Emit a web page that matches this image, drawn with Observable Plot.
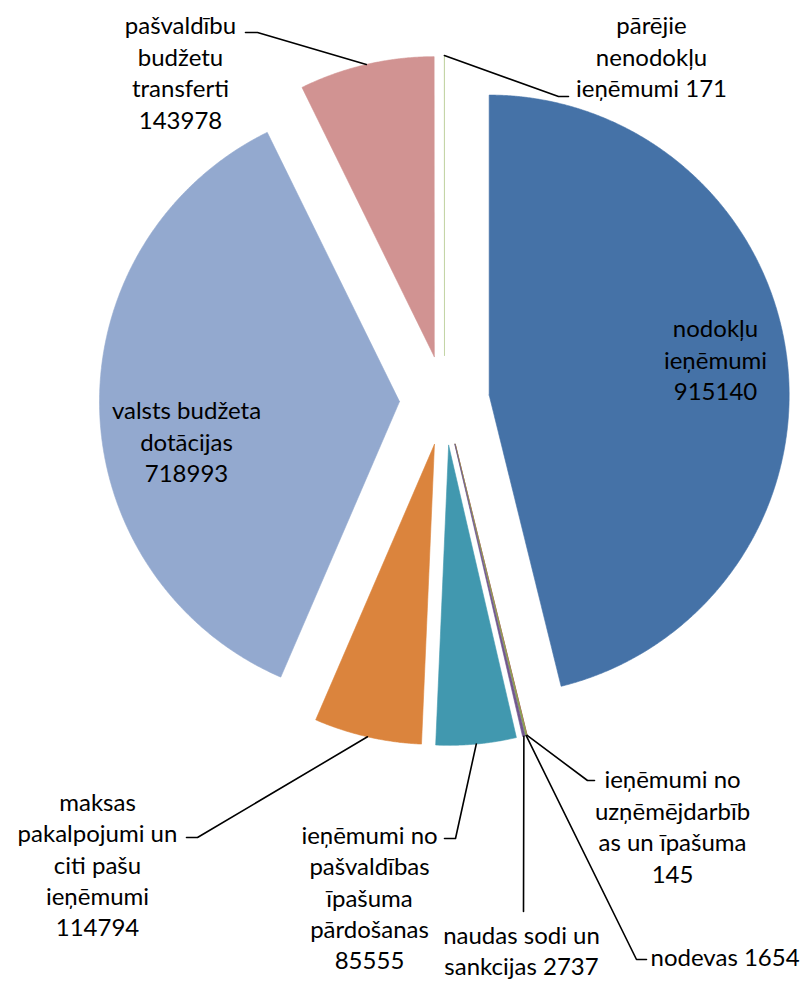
<!DOCTYPE html>
<html>
<head>
<meta charset="utf-8">
<script src="https://cdn.jsdelivr.net/npm/d3@7"></script>
<script src="https://cdn.jsdelivr.net/npm/@observablehq/plot@0.6"></script>
<style>
  html, body { margin: 0; padding: 0; background: #fff; }
  #chart svg { display: block; }
</style>
</head>
<body>
<div id="chart"></div>
<script>
// ---- data ----
const categories = [
  "nodokļu ieņēmumi",
  "ieņēmumi no uzņēmējdarbības un īpašuma",
  "nodevas",
  "naudas sodi un sankcijas",
  "ieņēmumi no pašvaldības īpašuma pārdošanas",
  "maksas pakalpojumi un citi pašu ieņēmumi",
  "valsts budžeta dotācijas",
  "pašvaldību budžetu transferti",
  "pārējie nenodokļu ieņēmumi"
];
const values = [915140, 145, 1654, 2737, 85555, 114794, 718993, 143978, 171];
// label text as wrapped in the chart ({v} = value)
const labelWraps = [
  "nodokļu\nieņēmumi\n{v}",
  "ieņēmumi no\nuzņēmējdarbīb\nas un īpašuma\n{v}",
  "nodevas {v}",
  "naudas sodi un\nsankcijas {v}",
  "ieņēmumi no\npašvaldības\nīpašuma\npārdošanas\n{v}",
  "maksas\npakalpojumi un\nciti pašu\nieņēmumi\n{v}",
  "valsts budžeta\ndotācijas\n{v}",
  "pašvaldību\nbudžetu\ntransferti\n{v}",
  "pārējie\nnenodokļu\nieņēmumi {v}"
];

// ---- styles / layout ----
const palette = ["#4572A7", "#AA4643", "#89A54E", "#71588F", "#4198AF", "#DB843D", "#93A9CF", "#D19392", "#B9CD96"];
const W = 803, H = 982;
const cx = 444, cy = 400, R = 300, explode = 45;
const FS = 24, LH = 1.31;
// label placement: [x, y, anchor]
const labelPos = [
  [715, 358, "middle"],
  [672, 825, "middle"],
  [650, 955, "start"],
  [521, 949, "middle"],
  [369, 896, "middle"],
  [97, 863, "middle"],
  [186, 440, "middle"],
  [180, 71, "middle"],
  [651, 55, "middle"]
];
// leader line extra points (after the slice's outer mid point)
const leaderBends = [
  null,
  [[587, 780], [594, 780]],
  [[636, 959], [646, 959]],
  [[523, 911]],
  [[455, 838], [444, 838]],
  [[197, 837], [186, 837]],
  null,
  [[257, 32], [245, 32]],
  [[558, 96], [568, 96]]
];

// ---- geometry from data ----
const arcs = d3.pie().sort(null).startAngle(0).endAngle(2 * Math.PI)(values);
const pt = (ox, oy, r, a) => [ox + r * Math.sin(a), oy - r * Math.cos(a)];

const slicePts = [];
const leaderPts = [];
arcs.forEach((a, i) => {
  const mid = (a.startAngle + a.endAngle) / 2;
  const [ox, oy] = pt(cx, cy, explode, mid);
  const cat = categories[i];
  slicePts.push({cat, x: ox, y: oy});
  const n = Math.max(2, Math.ceil((a.endAngle - a.startAngle) / 0.004));
  for (let k = 0; k <= n; k++) {
    const t = a.startAngle + (a.endAngle - a.startAngle) * k / n;
    const [x, y] = pt(ox, oy, R, t);
    slicePts.push({cat, x, y});
  }
  slicePts.push({cat, x: ox, y: oy});
  if (leaderBends[i]) {
    const [sx, sy] = pt(ox, oy, R, mid);
    leaderPts.push({cat, x: sx, y: sy});
    leaderBends[i].forEach(([x, y]) => leaderPts.push({cat, x, y}));
  }
});

const labels = categories.map((c, i) => ({
  cat: c,
  text: labelWraps[i].replace("{v}", values[i]),
  x: labelPos[i][0],
  y: labelPos[i][1],
  anchor: labelPos[i][2]
}));

const chart = Plot.plot({
  width: W,
  height: H,
  margin: 0,
  x: {domain: [0, W], range: [0, W], axis: null},
  y: {domain: [0, H], range: [0, H], axis: null},
  color: {domain: categories, range: palette},
  style: {background: "#fff"},
  marks: [
    Plot.line(slicePts, {x: "x", y: "y", z: "cat", fill: "cat", stroke: "cat", strokeWidth: 0.6, curve: "linear"}),
    Plot.line(leaderPts, {x: "x", y: "y", z: "cat", stroke: "#000", strokeWidth: 1.6, curve: "linear"}),
    Plot.text(labels.filter(d => d.anchor === "middle"), {
      x: "x", y: "y", text: "text", textAnchor: "middle", lineAnchor: "middle",
      fontSize: FS, lineHeight: LH, fontFamily: "Lato", fill: "#000"
    }),
    Plot.text(labels.filter(d => d.anchor === "start"), {
      x: "x", y: "y", text: "text", textAnchor: "start", lineAnchor: "middle",
      fontSize: FS, lineHeight: LH, fontFamily: "Lato", fill: "#000"
    })
  ]
});
document.getElementById("chart").appendChild(chart);
</script>
</body>
</html>
